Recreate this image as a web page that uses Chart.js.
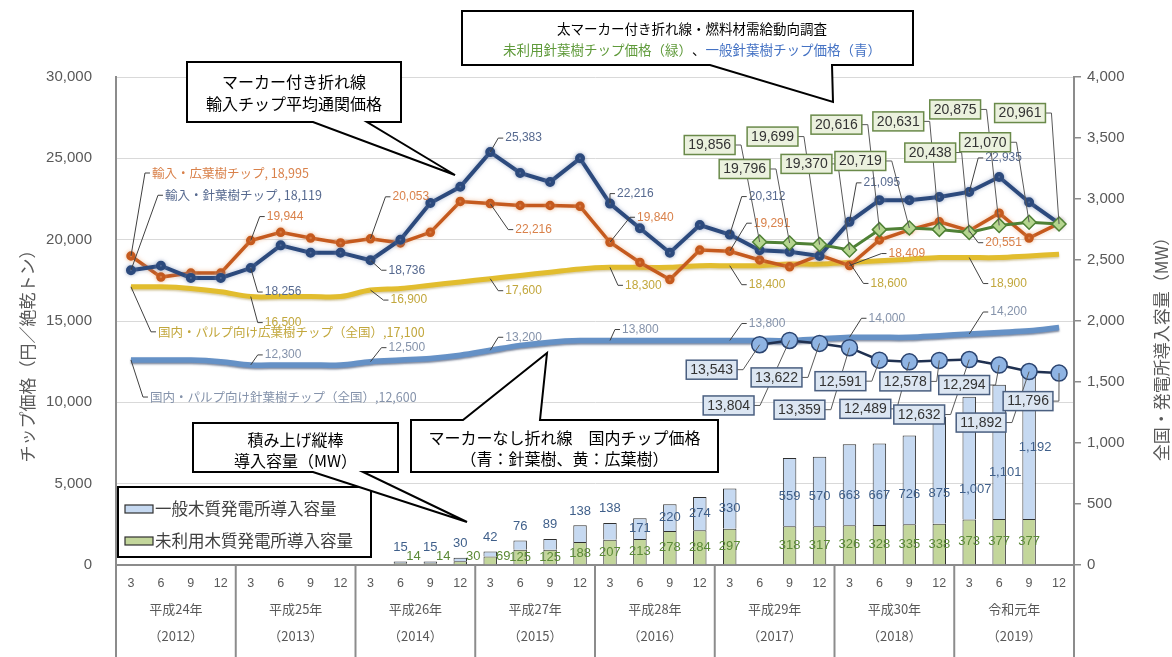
<!DOCTYPE html>
<html>
<head>
<meta charset="utf-8">
<script src="https://cdn.jsdelivr.net/npm/chart.js@4.4.1/dist/chart.umd.min.js"></script>
<style>
  html, body { margin: 0; padding: 0; background: #ffffff; }
  canvas { display: block; }
</style>
</head>
<body>
<canvas id="chart" width="1172" height="657"></canvas>
<script>
// ---- categories (quarter-end months) and year groups ----
const months = ['3','6','9','12','3','6','9','12','3','6','9','12','3','6','9','12',
                '3','6','9','12','3','6','9','12','3','6','9','12','3','6','9','12'];
const yearNames = ['平成24年','平成25年','平成26年','平成27年','平成28年','平成29年','平成30年','令和元年'];
const yearWestern = ['（2012）','（2013）','（2014）','（2015）','（2016）','（2017）','（2018）','（2019）'];

// ---- import chips, average customs price (yen / bone-dry ton) ----
const importHardwood = [18995, 17700, 17950, 17950, 19944, 20450, 20100, 19800,
                        20053, 19800, 20450, 22350, 22216, 22100, 22100, 22050,
                        19840, 18600, 17550, 19360, 19291, 18750, 18330, 19050,
                        18409, 19980, 20600, 21100, 20551, 21630, 20100, 21000];
const importSoftwood = [18119, 18400, 17650, 17650, 18256, 19650, 19200, 19200,
                        18736, 20000, 22250, 23250, 25383, 24100, 23550, 25000,
                        22216, 20700, 19200, 20900, 20312, 19350, 19250, 19000,
                        21095, 22430, 22430, 22620, 22935, 23850, 22300, 21000];

// ---- domestic pulp chips (national) ----
const domesticHardwood = [17100, 17100, 17000, 16800, 16500, 16500, 16500, 16500,
                          16900, 17000, 17200, 17400, 17600, 17800, 18000, 18200,
                          18300, 18300, 18300, 18400, 18400, 18400, 18500, 18500,
                          18600, 18700, 18800, 18900, 18900, 18900, 19000, 19100];
const domesticSoftwood = [12600, 12600, 12600, 12500, 12300, 12300, 12300, 12300,
                          12500, 12600, 12700, 12900, 13200, 13500, 13700, 13800,
                          13800, 13800, 13800, 13800, 13800, 13800, 13800, 13900,
                          14000, 14000, 14000, 14100, 14200, 14300, 14400, 14600];

// ---- fuel-wood survey chip prices ----
const unusedSoftwoodChip = [null, null, null, null, null, null, null, null,
                            null, null, null, null, null, null, null, null,
                            null, null, null, null, null, 19856, 19796, 19699,
                            19370, 20616, 20719, 20631, 20438, 20875, 21070, 20961];
const generalSoftwoodChip = [null, null, null, null, null, null, null, null,
                             null, null, null, null, null, null, null, null,
                             null, null, null, null, null, 13543, 13804, 13622,
                             13359, 12591, 12489, 12578, 12632, 12294, 11892, 11796];

// ---- installed capacity of wood power plants (MW) ----
const unusedCapacity = [null, null, null, null, null, null, null, null,
                        null, 14, 14, 30, 69, 125, 125, 188,
                        207, 213, 278, 284, 297, null, 318, 317,
                        326, 328, 335, 338, 373, 377, 377, null];
const generalCapacity = [null, null, null, null, null, null, null, null,
                         null, 15, 15, 30, 42, 76, 89, 138,
                         138, 171, 220, 274, 330, null, 559, 570,
                         663, 667, 726, 875, 1007, 1101, 1192, null];

// ---- fonts and colours ----
const FONT_NUM = "'Liberation Sans', 'Open Sans', sans-serif";
const FONT_JP = "'Noto Sans CJK JP', 'Noto Sans', sans-serif";
const AXIS_GRAY = '#8c8c8c';
const TEXT_GRAY = '#595959';
const fmt = v => v.toLocaleString('en-US');

// ---- data-label placement: offsets (px) from the point to the label ----
const leaderLabels = [
  { series: 'importHardwood', color: '#d9814a', items: [
    { i: 0, dx: 21, dy: -83, prefix: '輸入・広葉樹チップ, ' },
    { i: 4, dx: 16, dy: -24 }, { i: 8, dx: 22, dy: -42 }, { i: 12, dx: 25, dy: 26 },
    { i: 16, dx: 27, dy: -25 }, { i: 20, dx: 24, dy: -28 }, { i: 24, dx: 39, dy: -12 },
    { i: 28, dx: 16, dy: 12 } ] },
  { series: 'importSoftwood', color: '#56698f', items: [
    { i: 0, dx: 34, dy: -75, prefix: '輸入・針葉樹チップ, ' },
    { i: 4, dx: 14, dy: 24 }, { i: 8, dx: 18, dy: 10 }, { i: 12, dx: 15, dy: -14 },
    { i: 16, dx: 7, dy: -10 }, { i: 20, dx: 19, dy: -38 }, { i: 24, dx: 14, dy: -39 },
    { i: 28, dx: 16, dy: -34 } ] },
  { series: 'domesticHardwood', color: '#c2a73c', items: [
    { i: 0, dx: 27, dy: 45, prefix: '国内・パルプ向け広葉樹チップ（全国）,' },
    { i: 4, dx: 14, dy: 26 }, { i: 8, dx: 20, dy: 10 }, { i: 12, dx: 15, dy: 12 },
    { i: 16, dx: 15, dy: 18 }, { i: 20, dx: 19, dy: 19 }, { i: 24, dx: 21, dy: 21 },
    { i: 28, dx: 21, dy: 26 } ] },
  { series: 'domesticSoftwood', color: '#8593ab', items: [
    { i: 0, dx: 19, dy: 37, prefix: '国内・パルプ向け針葉樹チップ（全国）,' },
    { i: 4, dx: 14, dy: -10 }, { i: 8, dx: 18, dy: -14 }, { i: 12, dx: 15, dy: -13 },
    { i: 16, dx: 12, dy: -11 }, { i: 20, dx: 19, dy: -17 }, { i: 24, dx: 19, dy: -19 },
    { i: 28, dx: 21, dy: -22 } ] }
];
const boxLabels = [
  { series: 'unusedSoftwoodChip', fill: '#ebf1de', stroke: '#6a8a4a', items: [
    { i: 21, dx: -50, dy: -97 }, { i: 22, dx: -45, dy: -74 }, { i: 23, dx: -47, dy: -108 },
    { i: 24, dx: -43, dy: -86 }, { i: 25, dx: -43, dy: -105 }, { i: 26, dx: -49, dy: -67 },
    { i: 27, dx: -41, dy: -108 }, { i: 28, dx: -39, dy: -80 }, { i: 29, dx: -44, dy: -116 },
    { i: 30, dx: -44, dy: -80 }, { i: 31, dx: -39, dy: -111 } ] },
  { series: 'generalSoftwoodChip', fill: '#dce6f2', stroke: '#4a5f80', items: [
    { i: 21, dx: -48, dy: 25 }, { i: 22, dx: -61, dy: 65 }, { i: 23, dx: -43, dy: 34 },
    { i: 24, dx: -50, dy: 62 }, { i: 25, dx: -39, dy: 21 }, { i: 26, dx: -44, dy: 47 },
    { i: 27, dx: -34, dy: 21 }, { i: 28, dx: -50, dy: 55 }, { i: 29, dx: -35, dy: 20 },
    { i: 30, dx: -48, dy: 51 }, { i: 31, dx: -31, dy: 28 } ] }
];
// extra lift for a few capacity labels (px)
const barLabelLift = { 29: -17, 30: -42 };

// ---- line shadow helper ----
const shadowPlugin = {
  id: 'lineShadow',
  beforeDatasetDraw(chart, args) {
    const s = chart.data.datasets[args.index].shadow;
    if (!s) return;
    const c = chart.ctx;
    c.save();
    c.shadowColor = s.color; c.shadowBlur = s.blur;
    c.shadowOffsetX = 0; c.shadowOffsetY = s.oy;
  },
  afterDatasetDraw(chart, args) {
    if (chart.data.datasets[args.index].shadow) chart.ctx.restore();
  }
};

function metaById(chart, id) {
  const idx = chart.data.datasets.findIndex(d => d.id === id);
  return { meta: chart.getDatasetMeta(idx), data: chart.data.datasets[idx].data };
}

// ---- data labels (leaders, boxes, bar values) ----
const labelPlugin = {
  id: 'dataLabels',
  afterDatasetsDraw(chart) {
    const ctx = chart.ctx;
    ctx.save();
    // bar values
    const gen = metaById(chart, 'generalCapacity');
    const unu = metaById(chart, 'unusedCapacity');
    ctx.font = `13px ${FONT_NUM}`;
    ctx.textAlign = 'center'; ctx.textBaseline = 'middle';
    gen.meta.data.forEach((el, i) => {
      const v = gen.data[i]; if (v == null) return;
      const h = el.base - el.y;
      let y = (el.y + el.base) / 2;
      if (h < 20) y = el.y - 14;
      else if (h > 60) y = el.base - 30;
      y += (barLabelLift[i] || 0);
      ctx.fillStyle = '#3f5f8a';
      ctx.fillText(fmt(v), el.x + (i >= 28 ? 6 : 0), y);
    });
    unu.meta.data.forEach((el, i) => {
      const v = unu.data[i]; if (v == null) return;
      const h = el.base - el.y;
      let y = (el.y + el.base) / 2, x = el.x;
      if (h < 10) { y = el.base - 8; x += 13; }
      ctx.fillStyle = '#5b8a36';
      ctx.fillText(fmt(v), x, y);
    });

    // leader-line labels
    leaderLabels.forEach(group => {
      const { meta, data } = metaById(chart, group.series);
      group.items.forEach(it => {
        const p = meta.data[it.i];
        const tx = p.x + it.dx, ty = p.y + it.dy;
        ctx.strokeStyle = '#404040'; ctx.lineWidth = 1;
        ctx.beginPath();
        ctx.moveTo(p.x, p.y); ctx.lineTo(tx - 7, ty); ctx.lineTo(tx - 2, ty);
        ctx.stroke();
        ctx.font = it.prefix ? `12.5px ${FONT_JP}` : `12px ${FONT_NUM}`;
        ctx.fillStyle = group.color;
        ctx.textAlign = 'left'; ctx.textBaseline = 'middle';
        ctx.fillText((it.prefix || '') + fmt(data[it.i]), tx, ty);
      });
    });

    // boxed labels
    boxLabels.forEach(group => {
      const { meta, data } = metaById(chart, group.series);
      group.items.forEach(it => {
        const p = meta.data[it.i];
        const cx = p.x + it.dx, cy = p.y + it.dy;
        const text = fmt(data[it.i]);
        ctx.font = `14px ${FONT_NUM}`;
        const w = ctx.measureText(text).width + 8, h = 19;
        ctx.strokeStyle = '#595959'; ctx.lineWidth = 1;
        ctx.beginPath();
        ctx.moveTo(cx + w / 2, cy); ctx.lineTo(cx + w / 2 + 6, cy); ctx.lineTo(p.x, p.y);
        ctx.stroke();
        ctx.fillStyle = group.fill;
        ctx.fillRect(cx - w / 2, cy - h / 2, w, h);
        ctx.strokeStyle = group.stroke; ctx.lineWidth = 1.5;
        ctx.strokeRect(cx - w / 2, cy - h / 2, w, h);
        ctx.fillStyle = '#333333';
        ctx.textAlign = 'center'; ctx.textBaseline = 'middle';
        ctx.fillText(text, cx, cy + 0.5);
      });
    });
    ctx.restore();
  }
};

// ---- callout boxes, legend, year groups and axis titles ----
function callout(ctx, box, tail, lines, size) {
  const { l, t, r, b } = box;
  ctx.beginPath();
  ctx.moveTo(l, t);
  if (tail.edge === 'top') { ctx.lineTo(tail.a, t); ctx.lineTo(tail.x, tail.y); ctx.lineTo(tail.b, t); }
  ctx.lineTo(r, t); ctx.lineTo(r, b);
  if (tail.edge === 'bottom') { ctx.lineTo(tail.b, b); ctx.lineTo(tail.x, tail.y); ctx.lineTo(tail.a, b); }
  ctx.lineTo(l, b); ctx.closePath();
  ctx.fillStyle = '#ffffff'; ctx.fill();
  ctx.strokeStyle = '#000000'; ctx.lineWidth = 2; ctx.lineJoin = 'miter'; ctx.stroke();
  ctx.font = `${size}px ${FONT_JP}`;
  ctx.textBaseline = 'middle'; ctx.textAlign = 'left';
  lines.forEach(line => {
    const cx = line.cx != null ? line.cx : (l + r) / 2;
    const total = line.parts.reduce((s, p) => s + ctx.measureText(p[0]).width, 0);
    let x = cx - total / 2;
    line.parts.forEach(p => {
      ctx.fillStyle = p[1];
      ctx.fillText(p[0], x, line.y);
      x += ctx.measureText(p[0]).width;
    });
  });
}

const decorPlugin = {
  id: 'decor',
  afterDraw(chart) {
    const ctx = chart.ctx;
    const xs = chart.scales.x;
    const area = chart.chartArea;
    ctx.save();

    // year group dividers and labels below the month ticks
    ctx.strokeStyle = AXIS_GRAY; ctx.lineWidth = 2;
    const half = (xs.getPixelForValue(1) - xs.getPixelForValue(0)) / 2;
    for (let k = 0; k <= yearNames.length; k++) {
      const x = k === 0 ? area.left : (k === yearNames.length ? area.right : xs.getPixelForValue(4 * k) - half);
      ctx.beginPath(); ctx.moveTo(x, area.bottom); ctx.lineTo(x, chart.height); ctx.stroke();
    }
    ctx.fillStyle = TEXT_GRAY; ctx.textAlign = 'center'; ctx.textBaseline = 'middle';
    yearNames.forEach((name, k) => {
      const cx = (xs.getPixelForValue(4 * k) + xs.getPixelForValue(4 * k + 3)) / 2;
      ctx.font = `13px ${FONT_JP}`;
      ctx.fillText(name, cx, 609);
      ctx.fillText(yearWestern[k], cx, 636);
    });

    // axis titles
    ctx.font = `17px ${FONT_JP}`;
    ctx.fillStyle = TEXT_GRAY;
    ctx.save(); ctx.translate(28, 352); ctx.rotate(-Math.PI / 2);
    ctx.fillText('チップ価格（円／絶乾トン）', 0, 0); ctx.restore();
    ctx.save(); ctx.translate(1162, 345); ctx.rotate(-Math.PI / 2);
    ctx.fillText('全国・発電所導入容量（MW）', 0, 0); ctx.restore();

    // legend for the stacked capacity bars
    ctx.fillStyle = '#ffffff';
    ctx.fillRect(118, 487, 253, 70);
    ctx.strokeStyle = '#000000'; ctx.lineWidth = 2;
    ctx.strokeRect(118, 487, 253, 70);
    const legendItems = [
      { text: '一般木質発電所導入容量', fill: '#c6d9f1', y: 509 },
      { text: '未利用木質発電所導入容量', fill: '#c3d69b', y: 541 }
    ];
    legendItems.forEach(it => {
      ctx.fillStyle = it.fill; ctx.fillRect(125, it.y - 4, 28, 8);
      ctx.strokeStyle = '#2f2f2f'; ctx.lineWidth = 1.2; ctx.strokeRect(125, it.y - 4, 28, 8);
      ctx.fillStyle = '#404040'; ctx.font = `16.5px ${FONT_JP}`;
      ctx.textAlign = 'left'; ctx.fillText(it.text, 155, it.y);
    });

    // explanatory callouts
    callout(ctx, { l: 187, t: 62, r: 401, b: 122 },
      { edge: 'bottom', a: 313, b: 367, x: 455, y: 175 },
      [ { y: 82, parts: [['マーカー付き折れ線', '#000']] },
        { y: 104, parts: [['輸入チップ平均通関価格', '#000']] } ], 16);
    callout(ctx, { l: 462, t: 11, r: 913, b: 65 },
      { edge: 'bottom', a: 710, b: 832, x: 833, y: 102 },
      [ { y: 29, cx: 692, parts: [['太マーカー付き折れ線・燃料材需給動向調査', '#000']] },
        { y: 50, cx: 692, parts: [['未利用針葉樹チップ価格（緑）', '#5f9a3a'], ['、', '#000'], ['一般針葉樹チップ価格（青）', '#4472c4']] } ], 13.5);
    callout(ctx, { l: 193, t: 423, r: 398, b: 472 },
      { edge: 'bottom', a: 313, b: 363, x: 467, y: 522 },
      [ { y: 440, parts: [['積み上げ縦棒', '#000']] },
        { y: 461, parts: [['導入容量（MW）', '#000']] } ], 16);
    callout(ctx, { l: 411, t: 420, r: 718, b: 472 },
      { edge: 'top', a: 463, b: 540, x: 547, y: 353 },
      [ { y: 438, parts: [['マーカーなし折れ線　国内チップ価格', '#000']] },
        { y: 459, parts: [['（青：針葉樹、黄：広葉樹）', '#000']] } ], 16);

    ctx.restore();
  }
};

const ctx = document.getElementById('chart').getContext('2d');
new Chart(ctx, {
  type: 'bar',
  data: {
    labels: months,
    datasets: [
      { id: 'generalSoftwoodChip', type: 'line', data: generalSoftwoodChip, yAxisID: 'y', order: 1,
        borderColor: '#1f3050', borderWidth: 2.5, pointStyle: 'circle', pointRadius: 8,
        pointBackgroundColor: '#8fb4e3', pointBorderColor: '#2b4470', pointBorderWidth: 1.5, tension: 0 },
      { id: 'unusedSoftwoodChip', type: 'line', data: unusedSoftwoodChip, yAxisID: 'y', order: 2,
        borderColor: '#4f8135', borderWidth: 3, pointStyle: 'rectRot', pointRadius: 7,
        pointBackgroundColor: '#b5d58f', pointBorderColor: '#4f8135', pointBorderWidth: 1.5, tension: 0 },
      { id: 'importSoftwood', type: 'line', data: importSoftwood, yAxisID: 'y', order: 3,
        borderColor: '#2c4a7d', borderWidth: 4, pointRadius: 3, pointBackgroundColor: '#2c4a7d',
        pointBorderColor: '#2c4a7d', tension: 0,
        shadow: { color: 'rgba(120,140,180,0.6)', blur: 4, oy: 0 } },
      { id: 'importHardwood', type: 'line', data: importHardwood, yAxisID: 'y', order: 4,
        borderColor: '#c55a1e', borderWidth: 3.5, pointRadius: 3, pointBackgroundColor: '#c55a1e',
        pointBorderColor: '#c55a1e', tension: 0,
        shadow: { color: 'rgba(230,160,110,0.6)', blur: 4, oy: 0 } },
      { id: 'domesticHardwood', type: 'line', data: domesticHardwood, yAxisID: 'y', order: 5,
        borderColor: '#e2bd2e', borderWidth: 5, pointRadius: 0, tension: 0.35,
        shadow: { color: 'rgba(140,110,0,0.35)', blur: 2, oy: 1.5 } },
      { id: 'domesticSoftwood', type: 'line', data: domesticSoftwood, yAxisID: 'y', order: 6,
        borderColor: '#6591c6', borderWidth: 5.5, pointRadius: 0, tension: 0.35,
        shadow: { color: 'rgba(20,40,80,0.55)', blur: 2, oy: 1.5 } },
      { id: 'unusedCapacity', type: 'bar', data: unusedCapacity, yAxisID: 'y2', stack: 'capacity', order: 11,
        backgroundColor: '#c3d69b', borderColor: '#2f2f2f', borderWidth: 1,
        barPercentage: 0.45, categoryPercentage: 1 },
      { id: 'generalCapacity', type: 'bar', data: generalCapacity, yAxisID: 'y2', stack: 'capacity', order: 12,
        backgroundColor: '#c6d9f1', borderColor: '#2f2f2f', borderWidth: 1,
        barPercentage: 0.45, categoryPercentage: 1 }
    ]
  },
  options: {
    responsive: false,
    animation: false,
    devicePixelRatio: 1,
    layout: { padding: { top: 77, left: 0, right: 0, bottom: 0 } },
    plugins: { legend: { display: false }, tooltip: { enabled: false }, title: { display: false } },
    scales: {
      x: {
        stacked: true, offset: true,
        grid: { display: false, drawTicks: false },
        border: { display: true, color: AXIS_GRAY, width: 2 },
        ticks: { color: TEXT_GRAY, font: { family: FONT_NUM, size: 12.5 }, padding: 11,
                 maxRotation: 0, autoSkip: false },
        afterFit: s => { s.height = 92; }
      },
      y: {
        position: 'left', min: 0, max: 30000,
        ticks: { stepSize: 5000, color: TEXT_GRAY, font: { family: FONT_NUM, size: 15 }, padding: 24,
                 callback: v => fmt(v) },
        grid: { color: '#d9d9d9', drawTicks: false },
        border: { display: true, color: AXIS_GRAY, width: 2 },
        afterFit: s => { s.width = 116; }
      },
      y2: {
        position: 'right', min: 0, max: 4000, stacked: true,
        ticks: { stepSize: 500, color: TEXT_GRAY, font: { family: FONT_NUM, size: 15 }, padding: 6,
                 callback: v => fmt(v) },
        grid: { drawOnChartArea: false, drawTicks: true, tickLength: 7, color: AXIS_GRAY, lineWidth: 1.5 },
        border: { display: true, color: AXIS_GRAY, width: 2 },
        afterFit: s => { s.width = 98; }
      }
    }
  },
  plugins: [shadowPlugin, labelPlugin, decorPlugin]
});
</script>
</body>
</html>
